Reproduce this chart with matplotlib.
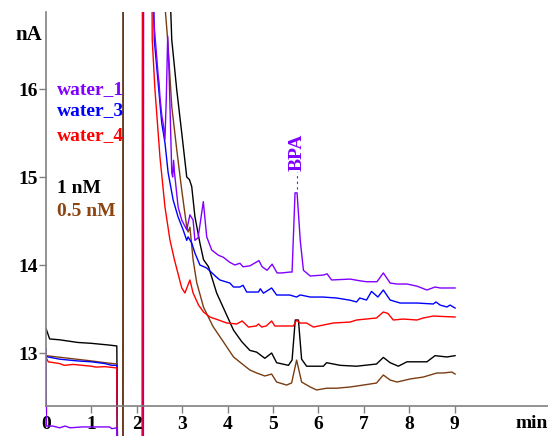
import matplotlib
matplotlib.use("Agg")
import matplotlib.pyplot as plt

plt.rcParams['font.family'] = ['Liberation Serif', 'DejaVu Serif']
plt.rcParams['font.weight'] = 'bold'

### DATA (time in min, current in nA) ###
# off-scale excursions (injection dip / solvent front) go to 11.5 / 17.5

# water_1 (purple)
w1_t = [0.0, 0.01, 0.15, 0.3, 0.42, 0.53, 0.8, 1.1, 1.4, 1.45, 1.56, 1.58,
        2.145, 2.15, 2.33, 2.37, 2.47, 2.49, 2.51, 2.55, 2.58, 2.62, 2.65, 2.68, 2.71,
        2.77, 2.79, 2.81, 2.83, 2.91, 2.99, 3.10, 3.17, 3.24, 3.28, 3.35, 3.465, 3.54,
        3.65, 3.80, 3.90, 4.05, 4.16, 4.27, 4.34, 4.49, 4.69, 4.76, 4.87, 4.98, 5.09,
        5.20, 5.37, 5.42, 5.485, 5.53, 5.60, 5.67, 5.82, 6.11, 6.19, 6.29, 6.70, 6.92,
        7.06, 7.29, 7.43, 7.58, 7.73, 7.95, 8.17, 8.39, 8.57, 8.68, 9.01]
w1_v = [13.05, 12.17, 12.17, 12.15, 12.17, 12.15, 12.16, 12.16, 12.16, 12.14, 12.15, 11.5,
        11.5, 17.5, 17.5, 16.80, 16.16, 16.07, 15.91, 15.70, 15.61, 15.43, 15.90, 16.60, 16.20,
        15.05, 15.00, 15.19, 15.05, 14.66, 14.51, 14.40, 14.57, 14.51, 14.28, 14.31, 14.72, 14.32,
        14.17, 14.11, 14.09, 14.03, 14.00, 14.02, 13.98, 13.99, 14.05, 13.98, 13.94, 14.01, 13.91,
        13.91, 13.92, 13.92, 14.82, 14.82, 14.28, 13.94, 13.875, 13.886, 13.90, 13.83, 13.84, 13.82,
        13.81, 13.81, 13.91, 13.795, 13.784, 13.784, 13.76, 13.716, 13.75, 13.739, 13.739]

# water_3 (blue)
w3_t = [0.0, 0.3, 0.7, 1.0, 1.3, 1.45, 1.56, 1.58,
        2.12, 2.125, 2.36, 2.385, 2.47, 2.55, 2.62, 2.69, 2.80, 2.91, 3.02, 3.10, 3.13, 3.21,
        3.28, 3.39, 3.54, 3.76, 3.83, 4.05, 4.13, 4.27, 4.34, 4.42, 4.68, 4.72, 4.79, 4.97,
        5.08, 5.37, 5.52, 5.60, 5.82, 6.10, 6.40, 6.70, 6.84, 6.91, 7.06, 7.17, 7.31, 7.43,
        7.58, 7.80, 8.17, 8.53, 8.59, 8.68, 8.83, 8.90, 9.01]
w3_v = [12.96, 12.93, 12.91, 12.90, 12.88, 12.86, 12.86, 11.5,
        11.5, 17.5, 17.5, 16.557, 16.07, 15.61, 15.39, 15.05, 14.74, 14.545, 14.40, 14.28, 14.32, 14.25,
        14.136, 14.0, 13.966, 13.86, 13.83, 13.795, 13.75, 13.75, 13.77, 13.693, 13.693, 13.73, 13.68, 13.739,
        13.659, 13.659, 13.636, 13.66, 13.636, 13.636, 13.625, 13.60, 13.58, 13.625, 13.602, 13.70, 13.636, 13.716,
        13.602, 13.568, 13.568, 13.557, 13.58, 13.545, 13.523, 13.545, 13.511]

# water_4 (red)
w4_t = [0.0, 0.05, 0.3, 0.4, 0.6, 1.0, 1.1, 1.3, 1.56, 1.58,
        2.125, 2.13, 2.33, 2.34, 2.40, 2.51, 2.62, 2.73, 2.83, 2.99, 3.06, 3.17, 3.24, 3.36,
        3.47, 3.61, 3.80, 3.98, 4.20, 4.32, 4.46, 4.63, 4.68, 4.75, 4.85, 4.97, 5.04, 5.45,
        5.52, 5.60, 5.74, 5.89, 6.33, 6.70, 6.84, 7.28, 7.43, 7.53, 7.65, 7.87, 8.17, 8.31,
        8.53, 9.01]
w4_v = [12.95, 12.90, 12.88, 12.86, 12.87, 12.85, 12.84, 12.845, 12.83, 11.5,
        11.5, 17.5, 17.5, 16.557, 15.99, 15.227, 14.66, 14.284, 14.057, 13.739, 13.682, 13.83, 13.682, 13.545,
        13.466, 13.409, 13.375, 13.341, 13.33, 13.364, 13.295, 13.307, 13.33, 13.295, 13.307, 13.364, 13.307, 13.307,
        13.375, 13.34, 13.341, 13.295, 13.341, 13.352, 13.375, 13.398, 13.466, 13.45, 13.375, 13.386, 13.375, 13.398,
        13.42, 13.409]

# 1 nM (black)
nm1_t = [0.0, 0.08, 0.3, 0.7, 1.0, 1.2, 1.4, 1.56, 1.58,
         1.695, 1.70, 2.74, 2.77, 2.88, 2.99, 3.10, 3.16, 3.21, 3.28, 3.39, 3.47, 3.58, 3.76,
         3.91, 4.13, 4.31, 4.49, 4.64, 4.82, 4.97, 5.08, 5.34, 5.42, 5.49, 5.56, 5.63, 5.74,
         6.11, 6.18, 6.48, 6.84, 7.28, 7.43, 7.58, 7.76, 7.95, 8.17, 8.39, 8.57, 8.83, 9.01]
nm1_v = [13.28, 13.16, 13.15, 13.12, 13.11, 13.10, 13.09, 13.08, 11.5,
         11.5, 17.5, 17.0, 16.56, 15.99, 15.50, 15.0, 14.97, 14.89, 14.55, 14.25, 14.06, 13.98, 13.68,
         13.51, 13.26, 13.13, 13.03, 13.01, 12.94, 13.0, 12.89, 12.86, 12.92, 13.375, 13.375, 12.93, 12.85,
         12.85, 12.89, 12.86, 12.85, 12.875, 12.95, 12.89, 12.85, 12.90, 12.90, 12.90, 12.97, 12.955, 12.97]

# 0.5 nM (brown)
nm05_t = [0.0, 0.5, 1.0, 1.3, 1.56, 1.58,
          1.695, 1.70, 2.58, 2.68, 2.77, 2.88, 2.99, 3.10, 3.13, 3.17, 3.24, 3.32, 3.47, 3.68,
          3.91, 4.13, 4.35, 4.49, 4.64, 4.82, 4.97, 5.08, 5.30, 5.41, 5.52, 5.63, 5.82, 5.96,
          6.18, 6.40, 6.70, 6.99, 7.28, 7.43, 7.58, 7.73, 8.02, 8.31, 8.61, 8.75, 8.94, 9.01]
nm05_v = [12.97, 12.94, 12.91, 12.89, 12.875, 11.5,
          11.5, 17.5, 17.2, 16.56, 15.80, 15.31, 14.85, 14.43, 14.375, 14.43, 14.06, 13.80, 13.52, 13.30,
          13.125, 12.955, 12.864, 12.807, 12.773, 12.739, 12.761, 12.67, 12.636, 12.66, 12.92, 12.67, 12.614, 12.58,
          12.60, 12.60, 12.614, 12.636, 12.659, 12.75, 12.693, 12.67, 12.705, 12.727, 12.773, 12.773, 12.784, 12.761]

traces = [
    (nm1_t, nm1_v, 'black'),
    (nm05_t, nm05_v, '#7A3D12'),
    (w3_t, w3_v, 'blue'),
    (w4_t, w4_v, 'red'),
    (w1_t, w1_v, '#8000FF'),
]

labels = ['water_1', 'water_3', 'water_4', '1 nM', '0.5 nM']
label_colors = ['#8000FF', 'blue', 'red', 'black', '#8B4513']
label_v = [15.99, 15.75, 15.47, 14.875, 14.61]

x_ticks = [0, 1, 2, 3, 4, 5, 6, 7, 8, 9]
y_ticks = [13, 14, 15, 16]
bpa_t = 5.53

### PLOT ###
fig = plt.figure(figsize=(5.48, 4.36), dpi=100)
ax = fig.add_axes([46 / 548, 0, 502 / 548, 424 / 436])
ax.set_xlim(0, 11.057)
ax.set_ylim(12.057, 16.875)

for t, v, c in traces:
    ax.plot(t, v, color=c, lw=1.0)

# axis styling: bare left + bottom axes in gray
axis_gray = '#808080'
for side in ['top', 'right']:
    ax.spines[side].set_visible(False)
ax.spines['bottom'].set_position(('data', 12.398))
ax.spines['left'].set_bounds(12.398, 16.875)
for side in ['bottom', 'left']:
    ax.spines[side].set_color(axis_gray)
    ax.spines[side].set_linewidth(1.2)
ax.set_xticks(x_ticks)
ax.set_yticks(y_ticks)
ax.tick_params(axis='both', direction='out', length=5, width=1, color=axis_gray,
               labelsize=14)
ax.tick_params(axis='x', pad=2)
ax.tick_params(axis='y', pad=1)

ax.text(-0.09, 16.61, 'nA', ha='right', va='center', fontsize=15, fontweight='bold')
ax.text(11.05, 12.2, 'min', ha='right', va='center', fontsize=14, fontweight='bold')

for lab, col, v in zip(labels, label_colors, label_v):
    ax.text(0.24, v, lab, color=col, ha='left', va='center', fontsize=14, fontweight='bold')

# peak annotation
ax.plot([bpa_t, bpa_t], [14.86, 15.06], color='#8000FF', lw=0.8, ls=(0, (2, 3)))
ax.text(bpa_t, 15.07, 'BPA', color='#8000FF', rotation=90, ha='center', va='bottom',
        fontsize=14, fontweight='bold')

fig.savefig('out.png', dpi=100)
